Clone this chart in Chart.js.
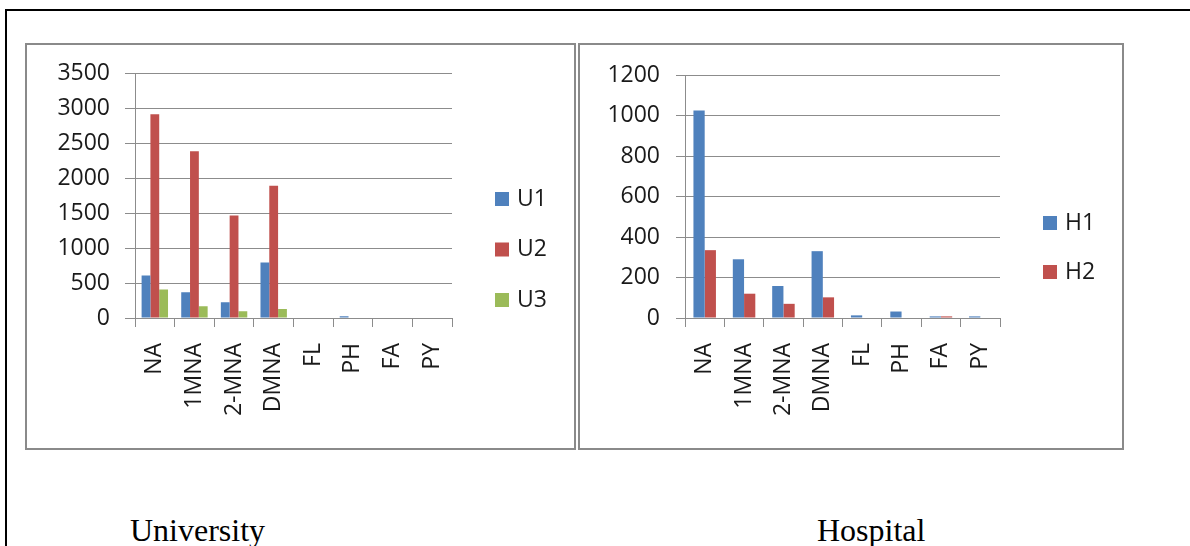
<!DOCTYPE html>
<html>
<head>
<meta charset="utf-8">
<script src="https://cdn.jsdelivr.net/npm/chart.js@4/dist/chart.umd.min.js"></script>
<style>
    body { margin: 0; background: #fff; width: 1190px; height: 546px; overflow: hidden; position: relative; }
    .frame { position: absolute; left: 5px; top: 9px; width: 1200px; height: 600px; border-top: 2px solid #000; border-left: 2px solid #000; }
    .box { position: absolute; top: 43px; border: 2px solid #8a8a8a; background: #fff; }
    .box canvas { display: block; }
    .caption { position: absolute; top: 514px; font-family: "Liberation Serif", serif; font-size: 32px; line-height: 32px; color: #000; }
</style>
</head>
<body>
<div class="frame"></div>
<div class="box" style="left:25px; width:547px; height:403px;"><canvas id="university" width="547" height="403"></canvas></div>
<div class="box" style="left:578px; width:542px; height:403px;"><canvas id="hospital" width="542" height="403"></canvas></div>
<div class="caption" style="left:130px;">University</div>
<div class="caption" style="left:817px;">Hospital</div>

<script>
// values
const categories = ["NA", "1MNA", "2-MNA", "DMNA", "FL", "PH", "FA", "PY"];

const u1 = [610, 370, 225, 795, 0, 25, 0, 0];
const u2 = [2920, 2390, 1470, 1895, 0, 0, 0, 0];
const u3 = [410, 170, 95, 130, 0, 0, 0, 0];

const h1 = [1025, 290, 158, 330, 13, 32, 8, 8];
const h2 = [335, 120, 70, 102, 0, 0, 8, 0];

const uniTicks = { max: 3500, step: 500 };
const hospTicks = { max: 1200, step: 200 };

const BLUE = "#4f81bd";
const RED = "#c0504d";
const GREEN = "#9bbb59";
const GRID = "#8c8c8c";
const TEXT = "#1a1a1a";
const FONT = "'Open Sans', 'Noto Sans', sans-serif";

// simple side legend, squares + labels
const sideLegend = {
    id: "sideLegend",
    afterDraw(chart, args, opts) {
        const ctx = chart.ctx;
        ctx.save();
        ctx.font = "23px " + FONT;
        ctx.textBaseline = "middle";
        ctx.textAlign = "left";
        chart.data.datasets.forEach((ds, i) => {
            const y = opts.y + i * opts.gap;
            ctx.fillStyle = ds.backgroundColor;
            ctx.fillRect(opts.x, y - 7, 14, 14);
            ctx.fillStyle = TEXT;
            ctx.fillText(ds.label, opts.x + 22, y);
        });
        ctx.restore();
    },
};

function makeChart(id, datasets, ticks, layout, catPct, legendPos) {
    return new Chart(document.querySelector(id).getContext("2d"), {
        type: "bar",
        data: { labels: categories, datasets: datasets },
        plugins: [sideLegend],
        options: {
            responsive: false,
            animation: false,
            layout: { padding: { top: layout.top, right: layout.right, left: 0, bottom: 0 } },
            datasets: { bar: { categoryPercentage: catPct, barPercentage: 1 } },
            scales: {
                x: {
                    afterFit: (scale) => { scale.height = layout.xHeight; },
                    grid: { drawOnChartArea: false, color: GRID, tickLength: 9 },
                    border: { color: GRID },
                    ticks: {
                        color: TEXT,
                        font: { family: FONT, size: 23 },
                        minRotation: 90,
                        maxRotation: 90,
                        autoSkip: false,
                        padding: 16,
                    },
                },
                y: {
                    min: 0,
                    max: ticks.max,
                    afterFit: (scale) => { scale.width = layout.yWidth; },
                    grid: { color: GRID, tickLength: layout.tick },
                    border: { color: GRID },
                    ticks: {
                        stepSize: ticks.step,
                        color: TEXT,
                        font: { family: FONT, size: 23 },
                        padding: layout.pad,
                        callback: (v) => String(v),
                    },
                },
            },
            plugins: {
                legend: { display: false },
                tooltip: { enabled: false },
                sideLegend: legendPos,
            },
        },
    });
}

makeChart(
    "#university",
    [
        { label: "U1", data: u1, backgroundColor: BLUE },
        { label: "U2", data: u2, backgroundColor: RED },
        { label: "U3", data: u3, backgroundColor: GREEN },
    ],
    uniTicks,
    { top: 28, right: 122, xHeight: 130, yWidth: 108, tick: 10, pad: 15 },
    3 / 4.5,
    { x: 468, y: 154, gap: 50.5 }
);

makeChart(
    "#hospital",
    [
        { label: "H1", data: h1, backgroundColor: BLUE },
        { label: "H2", data: h2, backgroundColor: RED },
    ],
    hospTicks,
    { top: 30, right: 122, xHeight: 130, yWidth: 105, tick: 9, pad: 16 },
    2 / 3.5,
    { x: 463, y: 178, gap: 49 }
);
</script>
</body>
</html>
